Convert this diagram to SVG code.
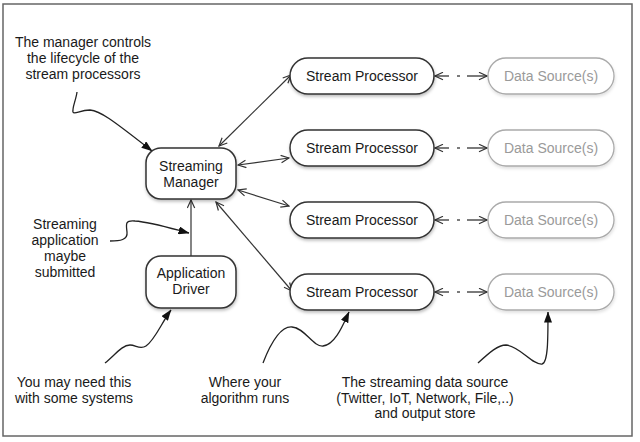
<svg xmlns="http://www.w3.org/2000/svg" width="640" height="442" viewBox="0 0 640 442">
<style>
  text { font-family: "Liberation Sans", Arial, sans-serif; font-size: 14px; fill: #1a1a1a; text-anchor: middle; }
  .box { fill: #ffffff; stroke: #333333; stroke-width: 1.5; filter: url(#sh); }
  .dbox { fill: #ffffff; stroke: #aaaaaa; stroke-width: 1.3; filter: url(#sh2); }
  .dtext { fill: #9a9a9a; }
  .conn { fill: none; stroke: #333333; stroke-width: 1.2; }
  .bi { marker-start: url(#open); marker-end: url(#open); }
  .ds { fill: none; stroke: #333333; stroke-width: 1.3; }
  .note { fill: none; stroke: #222222; stroke-width: 1.3; marker-end: url(#solid); }
</style>
<defs>
  <filter id="sh" x="-20%" y="-20%" width="140%" height="160%">
    <feDropShadow dx="0.5" dy="2" stdDeviation="1.5" flood-color="#000" flood-opacity="0.25"/>
  </filter>
  <filter id="sh2" x="-20%" y="-20%" width="140%" height="160%">
    <feDropShadow dx="0.5" dy="2" stdDeviation="1.5" flood-color="#000" flood-opacity="0.12"/>
  </filter>
  <marker id="open" viewBox="0 0 10 9" refX="9" refY="4.5" markerWidth="10" markerHeight="9" markerUnits="userSpaceOnUse" orient="auto-start-reverse">
    <path d="M1,0.8 L9,4.5 L1,8.2" fill="none" stroke="#333333" stroke-width="1.2"/>
  </marker>
  <marker id="solid" viewBox="0 0 11 8" refX="10.5" refY="4" markerWidth="11" markerHeight="8" markerUnits="userSpaceOnUse" orient="auto">
    <path d="M0,0 L11,4 L0,8 z" fill="#111111"/>
  </marker>
</defs>

<rect x="3" y="4" width="629" height="432" fill="#ffffff" stroke="#666666" stroke-width="1.5"/>

<g id="connectors">
  <line class="conn bi" x1="219" y1="146" x2="291" y2="75"/>
  <line class="conn bi" x1="238" y1="165" x2="289" y2="158"/>
  <line class="conn bi" x1="238" y1="190" x2="289" y2="206"/>
  <line class="conn bi" x1="216" y1="202" x2="292" y2="291"/>
  <line class="conn" x1="191" y1="256" x2="191" y2="200" marker-end="url(#open)"/>
  <g id="ds-links">
    <line class="ds" x1="449" y1="76" x2="435" y2="76" marker-end="url(#open)"/>
    <line class="ds" x1="457" y1="76" x2="460" y2="76"/>
    <line class="ds" x1="467" y1="76" x2="487" y2="76" marker-end="url(#open)"/>
    <line class="ds" x1="449" y1="148" x2="435" y2="148" marker-end="url(#open)"/>
    <line class="ds" x1="457" y1="148" x2="460" y2="148"/>
    <line class="ds" x1="467" y1="148" x2="487" y2="148" marker-end="url(#open)"/>
    <line class="ds" x1="449" y1="220" x2="435" y2="220" marker-end="url(#open)"/>
    <line class="ds" x1="457" y1="220" x2="460" y2="220"/>
    <line class="ds" x1="467" y1="220" x2="487" y2="220" marker-end="url(#open)"/>
    <line class="ds" x1="449" y1="292" x2="435" y2="292" marker-end="url(#open)"/>
    <line class="ds" x1="457" y1="292" x2="460" y2="292"/>
    <line class="ds" x1="467" y1="292" x2="487" y2="292" marker-end="url(#open)"/>
  </g>
  <path class="note" d="M77,92 C76,100 72,108 73,112 C74,115 80,110 90,110 C100,111 110,118 152,151"/>
  <path class="note" d="M110,241 C120,241 128,240 127,232 C126,224 125,220 135,221 C150,222 170,228 189,233"/>
  <path class="note" d="M105,363 C115,355 122,345 130,345 C136,345 140,350 146,346 C155,340 162,322 171,310"/>
  <path class="note" d="M263,363 C270,345 280,326 292,327 C305,328 313,347 323,346 C335,345 343,325 349,312"/>
  <path class="note" d="M478,363 C490,352 498,345 506,345 C520,346 532,365 542,364 C548,363 548,340 548,312"/>
</g>

<g id="manager">
  <rect class="box" x="146" y="148" width="90" height="51" rx="15"/>
  <text x="191" y="171">Streaming</text>
  <text x="191" y="187">Manager</text>
</g>
<g id="driver">
  <rect class="box" x="146" y="256" width="90" height="52" rx="15"/>
  <text x="191" y="278">Application</text>
  <text x="191" y="294">Driver</text>
</g>

<g id="sp1"><rect class="box" x="290" y="58" width="144" height="36" rx="18"/><text x="362" y="81">Stream Processor</text></g>
<g id="sp2"><rect class="box" x="290" y="130" width="144" height="36" rx="18"/><text x="362" y="153">Stream Processor</text></g>
<g id="sp3"><rect class="box" x="290" y="202" width="144" height="36" rx="18"/><text x="362" y="225">Stream Processor</text></g>
<g id="sp4"><rect class="box" x="290" y="274" width="144" height="36" rx="18"/><text x="362" y="297">Stream Processor</text></g>

<g id="ds1"><rect class="dbox" x="488" y="58" width="126" height="36" rx="18"/><text class="dtext" x="551" y="81">Data Source(s)</text></g>
<g id="ds2"><rect class="dbox" x="488" y="130" width="126" height="36" rx="18"/><text class="dtext" x="551" y="153">Data Source(s)</text></g>
<g id="ds3"><rect class="dbox" x="488" y="202" width="126" height="36" rx="18"/><text class="dtext" x="551" y="225">Data Source(s)</text></g>
<g id="ds4"><rect class="dbox" x="488" y="274" width="126" height="36" rx="18"/><text class="dtext" x="551" y="297">Data Source(s)</text></g>

<g id="note-manager">
  <text x="83" y="47">The manager controls</text>
  <text x="83" y="63">the lifecycle of the</text>
  <text x="83" y="79">stream processors</text>
</g>
<g id="note-submit">
  <text x="65" y="229">Streaming</text>
  <text x="65" y="245">application</text>
  <text x="65" y="261">maybe</text>
  <text x="65" y="277">submitted</text>
</g>
<g id="note-driver">
  <text x="74" y="387">You may need this</text>
  <text x="74" y="403">with some systems</text>
</g>
<g id="note-algo">
  <text x="245" y="387">Where your</text>
  <text x="245" y="403">algorithm runs</text>
</g>
<g id="note-source">
  <text x="425" y="387">The streaming data source</text>
  <text x="425" y="403">(Twitter, IoT, Network, File,..)</text>
  <text x="425" y="418">and output store</text>
</g>
</svg>
